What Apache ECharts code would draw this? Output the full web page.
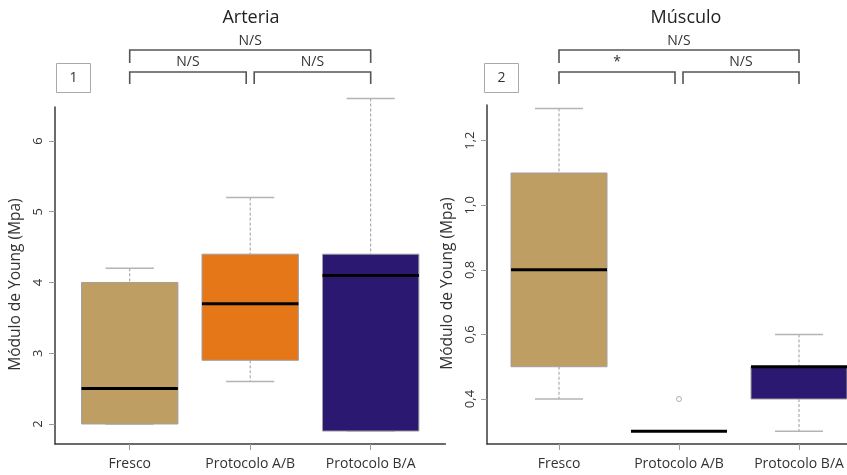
<!DOCTYPE html>
<html><head><meta charset="utf-8">
<script src="https://cdn.jsdelivr.net/npm/echarts@6/dist/echarts.min.js"></script>
<style>html,body{margin:0;padding:0;background:#fff}#c{width:847px;height:475px}</style>
</head><body><div id="c"></div><script>
// ---- data ----
const categories = ['Fresco', 'Protocolo A/B', 'Protocolo B/A'];
// [min whisker, Q1, median, Q3, max whisker]
const arteriaStats = [
  [2.0, 2.0, 2.5, 4.0, 4.2],
  [2.6, 2.9, 3.7, 4.4, 5.2],
  [1.9, 1.9, 4.1, 4.4, 6.6]
];
const musculoStats = [
  [0.4, 0.5, 0.8, 1.1, 1.3],
  [0.3, 0.3, 0.3, 0.3, 0.3],
  [0.3, 0.4, 0.5, 0.5, 0.6]
];
const arteriaOutliers = [];
const musculoOutliers = [[2, 0.4]];
const arteriaTicks = [2, 3, 4, 5, 6];
const musculoTicks = [0.4, 0.6, 0.8, 1.0, 1.2];
const boxColors = ['#BF9E63', '#E57718', '#2B1870'];
const panelTitles = ['Arteria', 'Músculo'];
const panelTags = ['1', '2'];
const arteriaSig = [{from: 1, to: 3, level: 0, text: 'N/S'}, {from: 1, to: 2, level: 1, text: 'N/S'}, {from: 2, to: 3, level: 1, text: 'N/S'}];
const musculoSig = [{from: 1, to: 3, level: 0, text: 'N/S'}, {from: 1, to: 2, level: 1, text: '*'}, {from: 2, to: 3, level: 1, text: 'N/S'}];
const yTitle = 'Módulo de Young (Mpa)';

const FONT = 'Open Sans';
const chart = echarts.init(document.getElementById('c'), null, {renderer: 'canvas'});

function renderBox(params, api) {
  const x = api.value(0);
  const lo = api.value(1), q1 = api.value(2), md = api.value(3), q3 = api.value(4), hi = api.value(5);
  const c = (xx, yy) => api.coord([xx, yy]);
  const color = boxColors[params.dataIndex];
  const half = 0.4, cap = 0.2;
  const tl = c(x - half, q3), br = c(x + half, q1);
  const pHi = c(x, hi), pQ3 = c(x, q3), pQ1 = c(x, q1), pLo = c(x, lo);
  const capHiL = c(x - cap, hi), capHiR = c(x + cap, hi);
  const capLoL = c(x - cap, lo), capLoR = c(x + cap, lo);
  const mL = c(x - half, md), mR = c(x + half, md);
  const ws = {stroke: '#9a9a9a', lineWidth: 1, lineDash: [3, 2]};
  const cs = {stroke: '#b4b4b4', lineWidth: 1.5};
  return {type: 'group', children: [
    {type: 'line', shape: {x1: pHi[0], y1: pHi[1], x2: pQ3[0], y2: pQ3[1]}, style: ws},
    {type: 'line', shape: {x1: pQ1[0], y1: pQ1[1], x2: pLo[0], y2: pLo[1]}, style: ws},
    {type: 'line', shape: {x1: capHiL[0], y1: capHiL[1], x2: capHiR[0], y2: capHiR[1]}, style: cs},
    {type: 'line', shape: {x1: capLoL[0], y1: capLoL[1], x2: capLoR[0], y2: capLoR[1]}, style: cs},
    {type: 'rect', shape: {x: tl[0], y: tl[1], width: br[0] - tl[0], height: br[1] - tl[1]},
      style: {fill: color, stroke: '#a0a0a0', lineWidth: 1}},
    {type: 'line', shape: {x1: mL[0], y1: mL[1], x2: mR[0], y2: mR[1]}, style: {stroke: '#000', lineWidth: 3}}
  ]};
}

function xAxisCfg(idx, min, max) {
  return {
    type: 'value', gridIndex: idx, min: min, max: max,
    axisLine: {show: true, onZero: false, lineStyle: {color: '#3a3a3a', width: 1.5}},
    axisTick: {show: true, customValues: [1, 2, 3], length: 6, lineStyle: {color: '#9a9a9a', width: 1}},
    axisLabel: {customValues: [1, 2, 3], formatter: v => categories[Math.round(v) - 1] || '',
      margin: 13, color: '#333', fontFamily: FONT, fontSize: 14},
    splitLine: {show: false}
  };
}
function yAxisCfg(idx, min, max, ticks, fmt) {
  return {
    type: 'value', gridIndex: idx, min: min, max: max,
    name: yTitle, nameLocation: 'middle', nameGap: 31,
    nameTextStyle: {color: '#333', fontFamily: FONT, fontSize: 15.5, padding: [0, 18, 0, 0]},
    axisLine: {show: true, onZero: false, lineStyle: {color: '#3a3a3a', width: 1.5}},
    axisTick: {show: true, customValues: ticks, length: 6, lineStyle: {color: '#9a9a9a', width: 1}},
    axisLabel: {customValues: ticks, rotate: 90, formatter: fmt, margin: 10, color: '#333',
      fontFamily: FONT, fontSize: 13},
    splitLine: {show: false}
  };
}

chart.setOption({
  animation: false,
  backgroundColor: '#fff',
  grid: [
    {left: 55, top: 107, width: 390.4, height: 337},
    {left: 487, top: 105, width: 360, height: 339}
  ],
  xAxis: [xAxisCfg(0, 0.38, 3.62), xAxisCfg(1, 0.4, 3.4)],
  yAxis: [
    yAxisCfg(0, 1.717, 6.48, arteriaTicks, v => String(Math.round(v))),
    yAxisCfg(1, 0.2607, 1.3105, musculoTicks, v => v.toFixed(1).replace('.', ','))
  ],
  series: [
    {type: 'custom', xAxisIndex: 0, yAxisIndex: 0, renderItem: renderBox, clip: false,
      encode: {x: 0, y: [1, 2, 3, 4, 5]}, data: arteriaStats.map((s, i) => [i + 1].concat(s))},
    {type: 'custom', xAxisIndex: 1, yAxisIndex: 1, renderItem: renderBox, clip: false,
      encode: {x: 0, y: [1, 2, 3, 4, 5]}, data: musculoStats.map((s, i) => [i + 1].concat(s))},
    {type: 'scatter', xAxisIndex: 0, yAxisIndex: 0, data: arteriaOutliers, symbol: 'circle', symbolSize: 5,
      itemStyle: {color: 'rgba(0,0,0,0)', borderColor: '#999', borderWidth: 1}},
    {type: 'scatter', xAxisIndex: 1, yAxisIndex: 1, data: musculoOutliers, symbol: 'circle', symbolSize: 5,
      itemStyle: {color: 'rgba(0,0,0,0)', borderColor: '#999', borderWidth: 1}}
  ]
});

// ---- annotations (titles, significance brackets, panel tags) ----
const gfx = [];
const lvlY = [{line: 50, leg: 63, text: 41}, {line: 72, leg: 84, text: 62}];
[arteriaSig, musculoSig].forEach((sigs, p) => {
  const px = v => chart.convertToPixel({xAxisIndex: p}, v);
  sigs.forEach(s => {
    const L = lvlY[s.level];
    let x1 = px(s.from), x2 = px(s.to);
    if (s.level === 1) {
      if (s.from === 2) x1 += 4;
      if (s.to === 2) x2 -= 4;
    }
    gfx.push({type: 'polyline', silent: true,
      shape: {points: [[x1, L.leg], [x1, L.line], [x2, L.line], [x2, L.leg]]},
      style: {stroke: '#555', lineWidth: 1.6, fill: null}});
    gfx.push({type: 'text', silent: true, x: (x1 + x2) / 2, y: L.text,
      style: {text: s.text, fill: '#333', font: '14px "' + FONT + '"', align: 'center', verticalAlign: 'middle'}});
  });
  const titleX = p === 0 ? 251 : 686;
  gfx.push({type: 'text', silent: true, x: titleX, y: 18,
    style: {text: panelTitles[p], fill: '#222', font: '18px "' + FONT + '"', align: 'center', verticalAlign: 'middle'}});
  const bx = p === 0 ? 56 : 484;
  gfx.push({type: 'rect', silent: true, shape: {x: bx + 0.5, y: 63.5, width: 34, height: 29},
    style: {fill: '#fff', stroke: '#aaa', lineWidth: 1}});
  gfx.push({type: 'text', silent: true, x: bx + 17.5, y: 78,
    style: {text: panelTags[p], fill: '#333', font: '14px "' + FONT + '"', align: 'center', verticalAlign: 'middle'}});
});
chart.setOption({graphic: gfx});
</script></body></html>
